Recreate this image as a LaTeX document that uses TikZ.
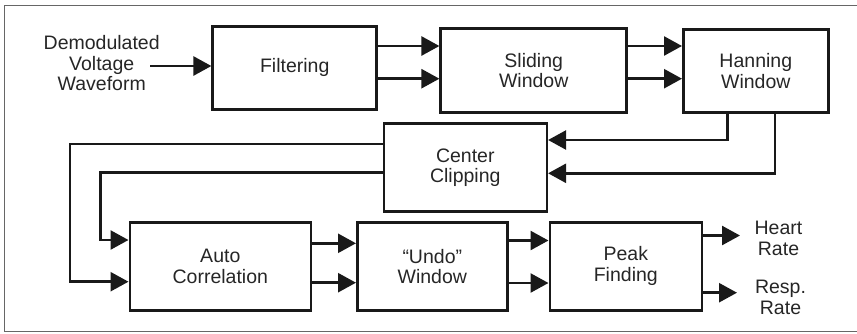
\documentclass[tikz,border=0pt]{standalone}
\usepackage{fontspec}
\setmainfont{Liberation Sans}
\usetikzlibrary{arrows.meta}
\begin{document}
\begin{tikzpicture}[x=1pt,y=-1pt,
  blk/.style={draw=black!90, line width=2.6pt, inner sep=0pt, align=center, font=\fontsize{19.5}{20.5}\selectfont, text=black!85},
  lbl/.style={align=center, font=\fontsize{19.5}{20.5}\selectfont, text=black!85, inner sep=0pt},
  conn/.style={line width=2.6pt, draw=black!90, -{Triangle[length=18pt,width=19pt]}},
  plain/.style={line width=2.6pt, draw=black!90}]
\useasboundingbox (0,0) rectangle (857,333);
\draw[black!60, line width=1.2pt] (857,5.5) -- (4.5,5.5) -- (4.5,331.5) -- (857,331.5);
% boxes
\node[blk, minimum width=164pt, minimum height=83pt] (filt) at (294.7,67.7) {Filtering};
\node[blk, minimum width=186pt, minimum height=84pt] (slid) at (533.7,70.5) {Sliding\\Window};
\node[blk, minimum width=145pt, minimum height=83pt] (hann) at (755.8,71) {Hanning\\Window};
\node[blk, minimum width=163pt, minimum height=88pt] (clip) at (465.3,167.5) {Center\\Clipping};
\node[blk, minimum width=181pt, minimum height=88pt] (auto) at (220.3,266.5) {Auto\\Correlation};
\node[blk, minimum width=150pt, minimum height=88pt] (undo) at (432.3,266.5) {``Undo''\\Window};
\node[blk, minimum width=152pt, minimum height=88pt] (peak) at (625.8,266.2) {Peak\\Finding};
% input
\node[lbl] (inp) at (101.7,63.5) {Demodulated\\Voltage\\Waveform};
\coordinate (inS) at (150,66);
\draw[conn] (inS) -- (filt.west |- inS);
% filt -> slid
\coordinate (a1) at (filt.east |- 0,46);
\coordinate (a2) at (filt.east |- 0,78.7);
\draw[conn] (a1) -- (slid.west |- a1);
\draw[conn] (a2) -- (slid.west |- a2);
% slid -> hann
\coordinate (b1) at (slid.east |- 0,46);
\coordinate (b2) at (slid.east |- 0,78.7);
\draw[conn] (b1) -- (hann.west |- b1);
\draw[conn] (b2) -- (hann.west |- b2);
% hann -> clip
\coordinate (h1) at (727.3,0);
\coordinate (h2) at (775,0);
\coordinate (c1) at (0,140);
\coordinate (c2) at (0,173.3);
\draw[conn] (hann.south -| h1) |- (clip.east |- c1);
\draw[conn] (hann.south -| h2) |- (clip.east |- c2);
% clip -> auto
\coordinate (l1) at (70,144);
\coordinate (l2) at (100.7,172.7);
\coordinate (r1) at (0,281.7);
\coordinate (r2) at (0,240);
\draw[conn] (clip.west |- l1) -- (l1) |- (auto.west |- r1);
\draw[conn] (clip.west |- l2) -- (l2) |- (auto.west |- r2);
% auto -> undo
\coordinate (d1) at (0,243.3);
\coordinate (d2) at (0,282.7);
\draw[conn] (auto.east |- d1) -- (undo.west |- d1);
\draw[conn] (auto.east |- d2) -- (undo.west |- d2);
% undo -> peak
\coordinate (e1) at (0,240.5);
\coordinate (e2) at (0,283);
\draw[conn] (undo.east |- e1) -- (peak.west |- e1);
\draw[conn] (undo.east |- e2) -- (peak.west |- e2);
% outputs
\coordinate (hr) at (740,235.5);
\coordinate (rr) at (737,292.7);
\draw[conn] (peak.east |- hr) -- (hr);
\draw[conn] (peak.east |- rr) -- (rr);
\node[lbl] (heart) at (778.5,238.5) {Heart\\Rate};
\node[lbl] (resp) at (780.5,297.5) {Resp.\\Rate};
\end{tikzpicture}
\end{document}
